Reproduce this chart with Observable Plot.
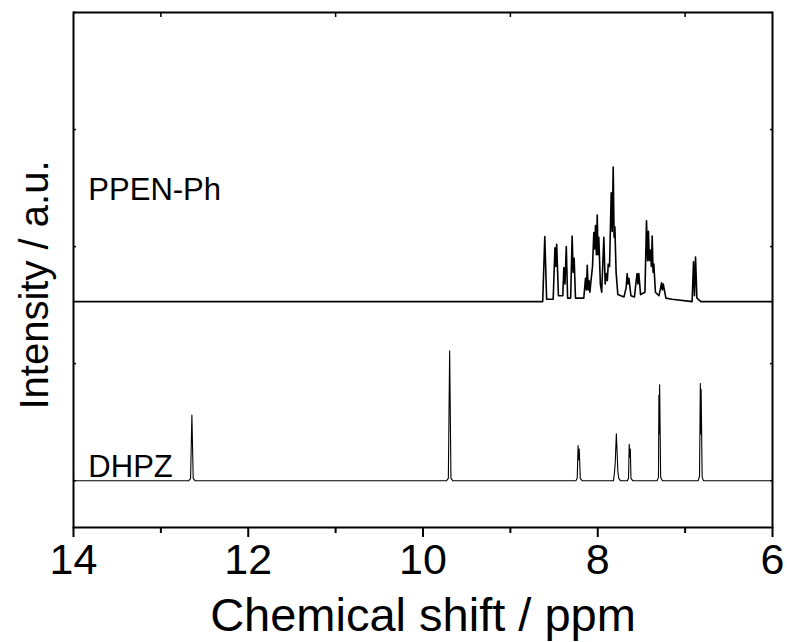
<!DOCTYPE html>
<html>
<head>
<meta charset="utf-8">
<script src="https://cdn.jsdelivr.net/npm/d3@7"></script>
<script src="https://cdn.jsdelivr.net/npm/@observablehq/plot@0.6"></script>
<style>
  html, body { margin: 0; padding: 0; background: #fff; }
  #chart { width: 790px; height: 642px; }
</style>
</head>
<body>
<div id="chart"></div>
<script>
// DHPZ spectrum: chemical shift (ppm) and intensity (a.u.)
const dhpzShift = [14, 12.68, 12.66, 12.645, 12.63, 12.61, 9.73, 9.71, 9.695, 9.68, 9.66,
  8.25, 8.235, 8.225, 8.218, 8.212, 8.20, 8.18,
  7.82, 7.81, 7.80, 7.795, 7.787, 7.78, 7.77, 7.76, 7.74,
  7.66, 7.648, 7.64, 7.633, 7.627, 7.62, 7.60,
  7.32, 7.305, 7.30, 7.296, 7.292, 7.28, 7.26,
  6.85, 6.835, 6.826, 6.822, 6.817, 6.805, 6.79, 6];
const dhpzInt = [0, 0, 0.02, 0.56, 0.02, 0, 0, 0.02, 1.11, 0.02, 0,
  0, 0.02, 0.30, 0.18, 0.27, 0.02, 0,
  0, 0.06, 0.15, 0.25, 0.40, 0.27, 0.08, 0.02, 0,
  0, 0.02, 0.31, 0.20, 0.27, 0.02, 0,
  0, 0.03, 0.73, 0.40, 0.82, 0.03, 0,
  0, 0.04, 0.83, 0.40, 0.78, 0.03, 0, 0];

// PPEN-Ph spectrum
const ppenShift = [14, 8.63, 8.606, 8.585, 8.51, 8.49, 8.48, 8.47, 8.45, 8.40, 8.388, 8.375, 8.36, 8.345,
  8.31, 8.293, 8.282, 8.27, 8.255, 8.16, 8.14, 8.13, 8.12, 8.11, 8.10, 8.09, 8.08,
  8.06, 8.045, 8.035, 8.026, 8.016, 8.006, 7.997, 7.988, 7.97, 7.955, 7.93, 7.915, 7.90, 7.89, 7.88,
  7.865, 7.846, 7.835, 7.823, 7.813, 7.804, 7.79, 7.77, 7.70, 7.675, 7.663, 7.655, 7.644, 7.62,
  7.58, 7.56, 7.55, 7.54, 7.53, 7.51, 7.46, 7.442, 7.43, 7.42, 7.41, 7.396, 7.386, 7.377, 7.367, 7.358,
  7.34, 7.30, 7.28, 7.27, 7.26, 7.25, 7.22, 7.15, 6.92, 6.904, 6.893, 6.881, 6.865, 6.82, 6];
const ppenInt = [0, 0, 0.556, 0.02, 0.02, 0.46, 0.30, 0.49, 0.05, 0.05, 0.29, 0.15, 0.47, 0.03,
  0.03, 0.56, 0.25, 0.37, 0.03, 0.03, 0.20, 0.10, 0.31, 0.10, 0.18, 0.08, 0.16,
  0.30, 0.59, 0.45, 0.65, 0.40, 0.74, 0.40, 0.55, 0.15, 0.08, 0.55, 0.15, 0.24, 0.18, 0.32,
  0.30, 0.93, 0.60, 1.15, 0.55, 0.64, 0.25, 0.06, 0.04, 0.12, 0.24, 0.15, 0.20, 0.05,
  0.04, 0.18, 0.24, 0.15, 0.24, 0.06, 0.08, 0.69, 0.35, 0.60, 0.35, 0.44, 0.30, 0.56, 0.25, 0.32,
  0.08, 0.05, 0.12, 0.16, 0.10, 0.15, 0.03, 0.02, 0, 0.34, 0.05, 0.38, 0.03, 0, 0];

const ppenOffset = 1.53;   // vertical stacking offset of the upper trace
const seriesNames = ["DHPZ", "PPEN-Ph"];
const xMajorTicks = [14, 12, 10, 8, 6];
const xMinorTicks = [13, 11, 9, 7];
const yTicks = [0, 1, 2, 3, 4];

const dhpz = dhpzShift.map((s, i) => ({x: s, y: dhpzInt[i]}));
const ppen = ppenShift.map((s, i) => ({x: s, y: ppenInt[i] + ppenOffset}));
const labels = [
  {x: 13.83, y: 2.48, text: seriesNames[1]},
  {x: 13.83, y: 0.12, text: seriesNames[0]}
];

const font = "Arial, 'Liberation Sans', sans-serif";

const chart = Plot.plot({
  width: 790,
  height: 642,
  marginTop: 12,
  marginLeft: 73,
  marginRight: 18,
  marginBottom: 115,
  style: {fontFamily: font, color: "#000", background: "#fff"},
  x: {domain: [14, 6]},
  y: {domain: [-0.4, 4.0]},
  marks: [
    Plot.line(dhpz, {x: "x", y: "y", stroke: "#000", strokeWidth: 1.1}),
    Plot.line(ppen, {x: "x", y: "y", stroke: "#000", strokeWidth: 1.6}),
    Plot.text(labels, {x: "x", y: "y", text: "text", textAnchor: "start", fontSize: 31, fill: "#000"}),
    Plot.axisX({ticks: xMajorTicks, tickSize: 10, tickPadding: 6, fontSize: 43, label: null, strokeWidth: 2}),
    Plot.axisX({ticks: xMinorTicks, tickSize: 6, text: null, label: null, strokeWidth: 2}),
    Plot.axisX({anchor: "top", ticks: xMinorTicks, tickSize: -4, text: null, label: null, strokeWidth: 1.5}),
    Plot.axisY({anchor: "left", ticks: yTicks, tickSize: -3, text: null, label: null, strokeWidth: 1.5}),
    Plot.axisY({anchor: "right", ticks: yTicks, tickSize: -3, text: null, label: null, strokeWidth: 1.5}),
    Plot.frame({stroke: "#000", strokeWidth: 2}),
    Plot.text(["Chemical shift / ppm"], {frameAnchor: "bottom", dy: 103, fontSize: 47, fill: "#000"}),
    Plot.text(["Intensity / a.u."], {frameAnchor: "left", textAnchor: "middle", dx: -38, dy: 15, rotate: -90, fontSize: 40, fill: "#000"})
  ]
});
document.getElementById("chart").appendChild(chart);
</script>
</body>
</html>
